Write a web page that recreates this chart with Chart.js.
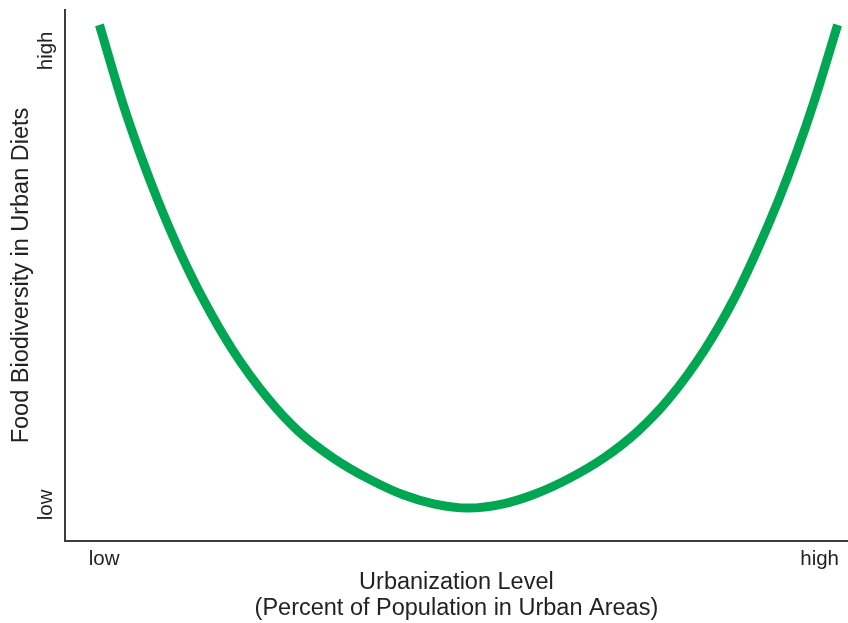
<!DOCTYPE html>
<html>
<head>
<meta charset="utf-8">
<title>Urbanization vs Food Biodiversity</title>
<script src="https://cdn.jsdelivr.net/npm/chart.js@4.4.1/dist/chart.umd.min.js"></script>
<style>
  html, body { margin: 0; padding: 0; background: #fff; }
  #wrap { width: 848px; height: 623px; }
</style>
</head>
<body>
<div id="wrap"><canvas id="chart" width="848" height="623"></canvas></div>
<script>
// curve (x: 0..100 urbanization, y: 0..100 biodiversity)
const curveX = [4.4, 7.3, 9.6, 11.9, 14.6, 17.7, 21.4, 26.0, 29.8, 34.3, 38.8, 43.2, 47.1, 51.5,
                56.0, 59.8, 64.3, 68.8, 73.2, 77.1, 81.7, 85.4, 88.4, 91.1, 93.4, 95.7, 98.7];
const curveY = [97.2, 82.8, 72.9, 64.0, 54.7, 45.4, 36.0, 26.7, 20.7, 15.6, 11.7, 8.7, 7.0, 6.2,
                7.0, 8.7, 11.7, 15.6, 20.7, 26.7, 36.0, 45.4, 54.7, 64.0, 72.9, 82.8, 97.2];

// tick labels
const xTickValues = [5.0, 96.4];
const xTickLabels = ["low", "high"];
const yTickValues = [6.8, 92.3];
const yTickLabels = ["low", "high"];

const xTitle = ["Urbanization Level", "(Percent of Population in Urban Areas)"];
const yTitle = "Food Biodiversity in Urban Diets";

const TEXT = "#222";
const FONT = '"Liberation Sans", Arial, sans-serif';

Chart.defaults.font.family = FONT;
Chart.defaults.color = TEXT;

/* y tick labels are rotated, so draw them by hand at the scale positions */
const rotatedYTicks = {
  id: "rotatedYTicks",
  afterDraw(chart) {
    const { ctx } = chart;
    const y = chart.scales.y;
    ctx.save();
    ctx.font = "20.5px " + FONT;
    ctx.fillStyle = TEXT;
    ctx.textAlign = "center";
    ctx.textBaseline = "middle";
    yTickValues.forEach((v, i) => {
      ctx.save();
      ctx.translate(y.right - 19, y.getPixelForValue(v));
      ctx.rotate(-Math.PI / 2);
      ctx.fillText(yTickLabels[i], 0, 0);
      ctx.restore();
    });
    ctx.restore();
  },
};

new Chart(document.getElementById("chart").getContext("2d"), {
  type: "line",
  data: {
    datasets: [
      {
        data: curveX.map((x, i) => ({ x, y: curveY[i] })),
        borderColor: "#00a651",
        borderWidth: 9,
        pointRadius: 0,
        fill: false,
        cubicInterpolationMode: "monotone",
      },
    ],
  },
  options: {
    responsive: false,
    animation: false,
    layout: { autoPadding: false, padding: { left: 4, top: 10, right: 0, bottom: 0 } },
    plugins: { legend: { display: false }, tooltip: { enabled: false } },
    scales: {
      x: {
        type: "linear",
        min: 0,
        max: 100,
        grid: { display: false, drawTicks: false },
        border: { display: true, color: "#3c3c3c", width: 2 },
        afterBuildTicks: (s) => { s.ticks = xTickValues.map((v) => ({ value: v })); },
        afterFit: (s) => { s.height = 82; },
        ticks: {
          autoSkip: false,
          maxRotation: 0,
          padding: 9,
          color: TEXT,
          font: { size: 20.5, lineHeight: 0.9 },
          callback: (v) => xTickLabels[xTickValues.indexOf(v)],
        },
        title: {
          display: true,
          text: xTitle,
          color: TEXT,
          font: { size: 23.5, lineHeight: 1.106 },
          padding: { top: 0, bottom: 1 },
        },
      },
      y: {
        type: "linear",
        min: 0,
        max: 100,
        grid: { display: false, drawTicks: false },
        border: { display: true, color: "#3c3c3c", width: 2 },
        ticks: { display: false },
        afterFit: (s) => { s.width = 61; },
        title: {
          display: true,
          text: yTitle,
          color: TEXT,
          font: { size: 23.5, lineHeight: 1.2 },
          padding: { top: 3, bottom: 29.8 },
        },
      },
    },
  },
  plugins: [rotatedYTicks],
});
</script>
</body>
</html>
